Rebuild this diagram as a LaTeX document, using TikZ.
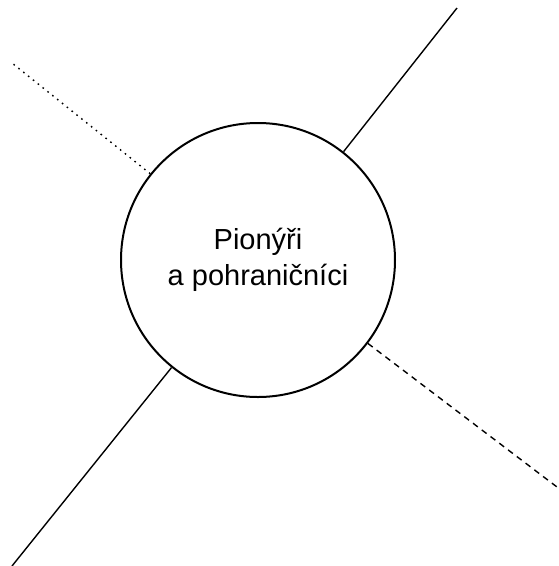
\documentclass[tikz,border=0pt]{standalone}
\usepackage{fontspec}
\setmainfont{Liberation Sans}

\begin{document}
\begin{tikzpicture}[
    x=1pt, y=-1pt,
    every node/.style={font=\fontsize{29}{36}\selectfont},
    topic/.style={draw, circle, line width=2pt, minimum size=274pt,
                  inner sep=0pt, align=center},
    link/.style={line width=1.4pt},
  ]
  \useasboundingbox (0,0) rectangle (559,566);
  \node[topic] (topic) at (258,260) {Pionýři\\a pohraničníci};
  \coordinate (ne) at (457,8);
  \coordinate (nw) at (12,63);
  \coordinate (sw) at (12,566);
  \coordinate (se) at (557,487);
  \draw[link] (topic) -- (ne);
  \draw[link, dash pattern=on 1.6pt off 4.6pt] (topic) -- (nw);
  \draw[link] (topic) -- (sw);
  \draw[link, dash pattern=on 6pt off 5pt] (topic) -- (se);
\end{tikzpicture}
\end{document}
